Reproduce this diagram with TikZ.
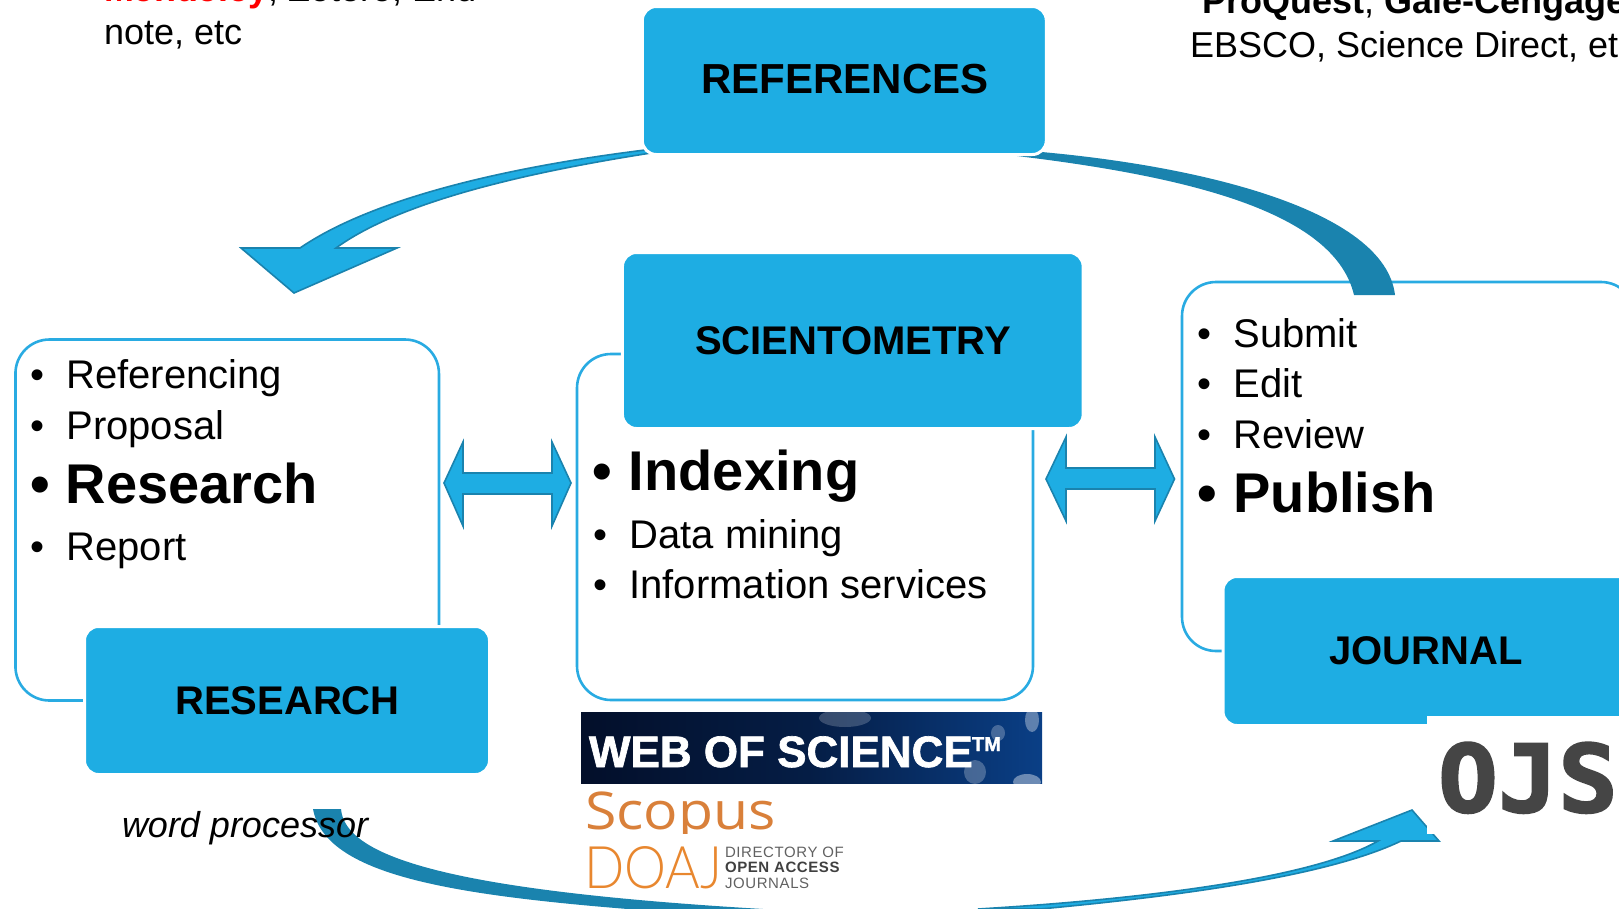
\documentclass[tikz,border=0pt]{standalone}
\usepackage{fontspec}
\setmainfont{Liberation Sans}
\newfontfamily\opensans{Open Sans}
\newfontfamily\latofont{Lato Light}
\newfontfamily\ojsfont[BoldFeatures={FakeBold=2}]{DejaVu Sans Mono}
\newfontfamily\wosfont[BoldFeatures={FakeBold=1.5}]{Liberation Sans}
\newfontfamily\spacedfont[LetterSpace=4]{Liberation Sans}
\usetikzlibrary{calc}
\definecolor{boxblue}{HTML}{1EADE3}
\definecolor{edgeblue}{HTML}{29ABE2}
\definecolor{darkblue}{HTML}{1A83AE}
\definecolor{wosdark}{HTML}{030F2A}
\definecolor{wosblue}{HTML}{0A3F86}
\definecolor{scopusorange}{HTML}{D9803A}
\definecolor{doajorange}{HTML}{E8872F}
\newcommand{\sz}[1]{\fontsize{#1pt}{#1pt}\selectfont}
\newcommand{\smallitem}[1]{\sz{40}\makebox[0pt][l]{•}\hspace*{36.5pt}#1}
\tikzset{
  anytext/.style={inner sep=0pt,outer sep=0pt,anchor=base west,text=black},
  boxtitle/.style={inner sep=0pt,outer sep=0pt,anchor=base,font=\bfseries,text=black},
  panel/.style={draw=edgeblue,line width=2.6pt,fill=white,rounded corners=34pt,inner sep=0pt},
  titlebox/.style={draw=white,line width=3pt,fill=boxblue,rounded corners=14pt,inner sep=0pt},
  blockarrow/.style={fill=boxblue,draw=darkblue,line width=1.6pt,line join=miter},
  band/.style={fill=darkblue,draw=none},
  logotext/.style={inner sep=0pt,outer sep=0pt,anchor=base west}
}
\begin{document}
\begin{tikzpicture}[x=1pt,y=-1pt]
\useasboundingbox (0,0) rectangle (1619,908);
\clip (0,0) rectangle (1619,908);

% panels
\node[panel,minimum width=423.5pt,minimum height=361pt] (leftpanel) at (227.2,520) {};
\node[panel,minimum width=456pt,minimum height=346pt] (midpanel) at (805,527) {};
\node[panel,minimum width=453pt,minimum height=369pt] (rightpanel) at (1408.5,466.5) {};

% free ends of the curved arrows
\coordinate (tlstartA) at (645,150);
\coordinate (tlstartB) at (651,153);
\coordinate (tlshaftA) at (300,248);
\coordinate (tlshaftB) at (336,248);
\coordinate (tlheadL) at (241,248);
\coordinate (tlheadR) at (397,248);
\coordinate (tltip) at (294,293);

\coordinate (trstartA) at (1030,151);
\coordinate (trstartB) at (1017,156);
\coordinate (trendA) at (1395,295);
\coordinate (trendB) at (1354,295);

\coordinate (bbandA) at (341,809);
\coordinate (bbandB) at (313,809);
\coordinate (bbandC) at (763,909);
\coordinate (bbandD) at (640,910);

\coordinate (brtip) at (1412,810);
\coordinate (brheadL) at (1333,841);
\coordinate (brheadR) at (1439,841);
\coordinate (brshaftA) at (1378,841);
\coordinate (brshaftB) at (1401,841);
\coordinate (brtailA) at (978,909);
\coordinate (brtailB) at (1040,909);

% curved arrows
\draw[blockarrow] (tlstartA) .. controls (500,168) and (370,200) .. (tlshaftA)
  -- (tlheadL) -- (tltip) -- (tlheadR) -- (tlshaftB)
  .. controls (395,205) and (510,175) .. (tlstartB) -- cycle;

\fill[band] (trstartA) .. controls (1200,165) and (1385,210) .. (trendA)
  -- (trendB) .. controls (1335,215) and (1200,178) .. (trstartB) -- cycle;

\fill[band] (bbandA) .. controls (345,855) and (440,890) .. (bbandC)
  -- (bbandD) .. controls (450,895) and (325,875) .. (bbandB) -- cycle;

\draw[blockarrow] (brtailA) .. controls (1130,900) and (1310,880) .. (brshaftA)
  -- (brheadL) -- (brtip) -- (brheadR) -- (brshaftB)
  .. controls (1330,875) and (1190,895) .. (brtailB) -- cycle;

% double arrows
\draw[blockarrow] (444,483) -- (463,442) -- (463,473) -- (552,473) -- (552,442) -- (571,483)
  -- (552,526) -- (552,494) -- (463,494) -- (463,526) -- cycle;
\draw[blockarrow] (1046,479) -- (1066,437) -- (1066,468) -- (1155,468) -- (1155,437) -- (1174.5,479)
  -- (1155,521) -- (1155,489) -- (1066,489) -- (1066,521) -- cycle;

% title boxes
\node[titlebox,minimum width=404pt,minimum height=148pt] (refbox) at (844.3,80.5) {};
\node[titlebox,minimum width=460.7pt,minimum height=176pt] (scibox) at (852.8,340.5) {};
\node[titlebox,minimum width=405pt,minimum height=148pt] (resbox) at (287,700.5) {};
\node[titlebox,minimum width=446pt,minimum height=149pt] (jourbox) at (1446,651) {};

\node[boxtitle] (reflabel) at (845,93) {\sz{42}REFERENCES};
\node[boxtitle] (scilabel) at (853,354) {\sz{40}SCIENTOMETRY};
\node[boxtitle] (reslabel) at (287.5,714) {\sz{40}RESEARCH};
\node[boxtitle] (jourlabel) at (1426,664) {\sz{40}JOURNAL};

% left list
\node[anytext] (l1) at (30,388) {\smallitem{Referencing}};
\node[anytext] (l2) at (30,439) {\smallitem{Proposal}};
\node[anytext] (l3) at (30,503) {\sz{56}\bfseries\makebox[0pt][l]{•}\hspace*{36pt}Research};
\node[anytext] (l4) at (30,560) {\smallitem{Report}};

% middle list
\node[anytext] (m1) at (592,490) {\sz{56}\bfseries\makebox[0pt][l]{•}\hspace*{37pt}Indexing};
\node[anytext] (m2) at (593,548) {\smallitem{Data mining}};
\node[anytext] (m3) at (593,598) {\smallitem{Information services}};

% right list
\node[anytext] (r1) at (1197,347) {\smallitem{Submit}};
\node[anytext] (r2) at (1197,397) {\smallitem{Edit}};
\node[anytext] (r3) at (1197,448) {\smallitem{Review}};
\node[anytext] (r4) at (1197,512) {\sz{56}\bfseries\makebox[0pt][l]{•}\hspace*{36.5pt}Publish};

% loose texts
\node[anytext] (tl1) at (104,1) {\sz{36}\textcolor{red}{\textbf{Mendeley}}, Zotero, End};
\node[anytext] (tl2) at (104,44) {\sz{36}note, etc};
\node[anytext] (tr1) at (1202,13) {\sz{36}\textbf{ProQuest}, \textbf{Gale-Cengage}};
\node[anytext] (tr2) at (1190,57) {\sz{36}EBSCO, Science Direct, etc};
\node[anytext] (wp) at (122,837) {\sz{36}\itshape word processor};

% Web of Science logo
\begin{scope}
  \clip (581,712) rectangle (1042,783);
  \shade[left color=wosdark,right color=wosblue,middle color=wosdark!70!wosblue] (581,712) rectangle (1042,783);
  \fill[white,opacity=.2] (845,718) ellipse (26 and 9);
  \fill[white,opacity=.25] (975,772) ellipse (11 and 12);
  \fill[white,opacity=.35] (1032,720) ellipse (7 and 12);
  \fill[white,opacity=.25] (998,733) ellipse (7 and 8);
  \fill[white,opacity=.4] (1027,782) ellipse (14 and 8);
\end{scope}
\node[logotext,text=white] (wos) at (589,767) {\wosfont\sz{44}\bfseries WEB OF SCIENCE};
\node[logotext,text=white] (wostm) at (972,751) {\wosfont\sz{20}\bfseries TM};

% Scopus and DOAJ logos
\node[logotext,text=scopusorange] (scopus) at (585,829) {\opensans\sz{52}\scalebox{1.1}[1]{Scopus}};
\fill[white] (575,834) rectangle (860,845);
\node[logotext,text=doajorange] (doaj) at (584,888) {\latofont\sz{58}\resizebox{138pt}{42pt}{DOAJ}};
\node[logotext,text=black!62] (doaj1) at (725,857) {\spacedfont\sz{15}DIRECTORY OF};
\node[logotext,text=black!75] (doaj2) at (725,872) {\spacedfont\sz{15}\bfseries OPEN ACCESS};
\node[logotext,text=black!62] (doaj3) at (725,888) {\spacedfont\sz{15}JOURNALS};

% OJS logo
\fill[white] (1427,716) rectangle (1619,834);
\node[logotext,text=black!73] (ojs) at (1438,812) {\ojsfont\sz{94}\bfseries\scalebox{1.06}[1]{OJS}};
\end{tikzpicture}
\end{document}
